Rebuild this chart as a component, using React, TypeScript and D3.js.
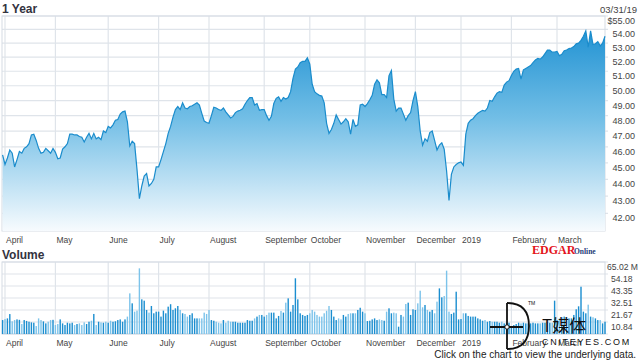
import React from "react";
import * as d3 from "d3";

const priceValues = [
  45.5, 44.9, 45.3, 45.8, 45.6, 44.75, 45.2, 45.7, 45.6, 45.9,
  46.0, 46.2, 46.75, 46.8, 46.4, 45.9, 45.6, 45.65, 45.9, 45.75,
  45.6, 45.9, 45.65, 45.25, 45.3, 45.85, 46.0, 46.2, 46.8, 46.8,
  46.75, 46.75, 46.65, 46.6, 46.3, 46.6, 46.85, 46.5, 46.85, 46.5,
  46.6, 46.45, 47.0, 46.9, 47.3, 47.2, 47.4, 47.7, 47.75, 48.1,
  48.25, 48.3, 47.6, 46.05, 46.35, 46.2, 44.6, 42.85, 43.6, 44.2,
  44.35, 43.6, 43.75, 44.0, 44.75, 44.75, 45.2, 45.7, 46.2, 46.85,
  47.3, 47.9, 48.4, 48.6, 48.4, 48.85, 48.5, 48.45, 48.6, 48.65,
  48.75, 48.85, 48.7, 48.15, 47.65, 47.55, 47.5, 48.0, 48.55, 48.5,
  48.4, 48.35, 48.5, 48.25, 48.05, 47.85, 47.95, 48.2, 48.3, 48.35,
  48.45, 48.75, 49.0, 49.2, 49.2, 48.7, 48.8, 48.35, 48.4, 48.4,
  48.0, 47.7, 47.95, 48.8, 49.15, 49.25, 48.95, 49.2, 49.1, 49.2,
  49.6, 50.5, 51.15, 51.3, 51.6, 51.7, 51.7, 51.95, 51.5, 50.1,
  49.6, 49.45, 49.35, 49.3, 48.85, 47.5, 46.85, 47.1, 47.5, 48.05,
  47.75, 47.45, 47.6, 47.8, 47.6, 46.8, 47.75, 47.3, 47.4, 48.7,
  48.75, 48.6, 48.8, 49.05, 49.35, 50.1, 50.4, 50.2, 49.4, 49.4,
  49.2, 50.7, 51.05, 49.1, 48.3, 48.5, 48.5, 48.1, 47.7, 48.0,
  48.2, 49.0, 49.6, 48.6, 47.0, 46.1, 46.5, 46.35, 46.9, 47.0,
  46.4, 45.8, 46.1, 46.25, 45.85, 44.5, 42.75, 44.3, 44.75, 44.9,
  45.0, 45.05, 44.85, 46.8, 47.5, 47.7, 47.8, 48.0, 48.15, 48.25,
  48.35, 48.3, 48.5, 49.0, 48.95, 49.25, 49.5, 49.6, 49.55, 50.05,
  50.25, 50.35, 50.7, 51.0, 51.15, 51.2, 50.45, 51.1, 51.2, 51.3,
  51.4, 51.6, 51.8, 51.9, 51.85, 52.0, 52.25, 52.5, 52.5, 52.35,
  52.35, 52.4, 52.1, 52.2, 52.45, 52.5, 52.6, 52.65, 52.75, 52.95,
  53.0, 53.2, 53.5, 53.9, 52.7, 53.9, 52.9, 52.95, 53.1, 52.8,
  53.0, 53.5,
];

const volumeValues = [
  12.6, 13.5, 14.1, 18.0, 11.5, 12.6, 13.2, 12.8, 9.0, 12.6,
  11.8, 11.1, 10.5, 10.2, 7.2, 14.1, 12.6, 11.4, 9.6, 11.1,
  12.6, 12.8, 8.1, 9.0, 13.2, 9.6, 8.1, 10.2, 9.6, 10.2,
  8.1, 9.0, 9.6, 8.1, 10.5, 9.0, 11.1, 12.0, 18.1, 8.1,
  11.1, 10.5, 10.2, 11.1, 10.2, 12.0, 11.1, 11.5, 12.6, 13.2,
  11.1, 13.2, 15.7, 36.7, 27.7, 20.2, 21.1, 59.3, 31.3, 30.1,
  21.7, 19.3, 25.3, 18.7, 20.2, 20.2, 15.7, 21.1, 18.7, 24.7,
  26.9, 21.7, 23.2, 25.3, 21.7, 18.7, 18.1, 15.7, 17.2, 18.7,
  14.1, 14.1, 14.1, 14.1, 19.3, 18.1, 21.7, 12.6, 12.0, 11.1,
  10.2, 9.6, 12.6, 10.2, 12.0, 11.1, 11.1, 11.1, 10.2, 10.2,
  10.2, 10.2, 12.6, 12.0, 12.0, 14.1, 15.7, 17.2, 17.2, 15.7,
  17.2, 19.3, 19.3, 19.3, 14.1, 16.3, 20.8, 19.3, 28.3, 32.2,
  20.2, 26.2, 50.3, 31.3, 18.7, 17.2, 16.3, 17.2, 18.7, 21.7,
  20.2, 17.2, 15.7, 15.7, 18.7, 21.0, 25.3, 21.7, 15.7, 12.6,
  14.1, 13.2, 17.2, 15.7, 18.1, 18.7, 18.7, 18.7, 21.7, 23.7,
  20.2, 18.7, 11.7, 12.0, 13.2, 14.1, 12.6, 13.2, 12.6, 12.0,
  20.2, 23.2, 18.7, 19.3, 18.7, 6.6, 17.2, 15.7, 27.1, 28.3,
  17.2, 22.3, 21.7, 27.7, 39.1, 24.1, 26.2, 21.7, 20.2, 21.7,
  18.7, 29.2, 41.2, 33.1, 34.3, 57.2, 20.2, 18.1, 19.3, 38.2,
  13.2, 13.5, 18.7, 18.7, 16.3, 15.7, 15.7, 15.7, 14.1, 13.2,
  12.0, 12.6, 11.1, 11.7, 11.1, 11.1, 11.1, 10.2, 11.1, 9.6,
  10.2, 10.2, 6.6, 8.1, 9.0, 10.2, 9.6, 10.2, 9.6, 9.6,
  9.6, 10.2, 9.6, 9.6, 9.6, 10.2, 10.2, 11.1, 10.2, 10.2,
  30.1, 12.6, 14.1, 15.1, 15.7, 15.1, 14.1, 14.1, 17.2, 22.3,
  25.0, 42.7, 20.2, 18.7, 26.5, 15.7, 15.1, 14.1, 12.6, 12.6,
  9.6, 11.1,
];

const monthLabels = ["April", "May", "June", "July", "August", "September", "October", "November", "December", "2019", "February", "March"];
const monthIndex = [1, 22, 44, 65, 86, 109, 128, 151, 172, 191, 212, 231];
const priceTicks = [42, 43, 44, 45, 46, 47, 48, 49, 50, 51, 52, 53, 54, 55];
const volumeTicks = [0, 10.84, 21.67, 32.51, 43.35, 54.18, 65.02];

const W = 640;
const H = 361;
const L = 2;
const R = 605;
const PT = 16;
const PB = 231;
const VT = 262;
const VB = 334;
const GRID = "#dfe4ea";
const FONT = "Liberation Sans, Arial, sans-serif";

export default function App() {
  const x = d3.scaleLinear().domain([0, priceValues.length - 1]).range([2.6, R]);
  const y = d3.scaleLog().domain([41, 55]).range([PB, PT]);
  const yv = d3.scaleLinear().domain([0, 65.02]).range([VB, VT]);

  const area = d3
    .area<number>()
    .x((_, i) => x(i))
    .y0(PB)
    .y1((d) => y(d));
  const line = d3
    .line<number>()
    .x((_, i) => x(i))
    .y((d) => y(d));

  return (
    <svg
      width={W}
      height={H}
      style={{ position: "absolute", left: 0, top: 0, background: "#fff" }}
      fontFamily={FONT}
    >
      <defs>
        <linearGradient id="pg" gradientUnits="userSpaceOnUse" x1="0" y1={PT + 10} x2="0" y2={PB}>
          <stop offset="0%" stopColor="#1e91d2" />
          <stop offset="45%" stopColor="#72bee6" />
          <stop offset="100%" stopColor="#f7fbfe" />
        </linearGradient>
      </defs>
      <rect x={0} y={0} width={W} height={H} fill="#fff" />

      {/* Price panel */}
      <text x={2} y={13} fontSize={12} fontWeight="bold" fill="#333340">1 Year</text>
      <text x={637} y={13} fontSize={9.5} fill="#444" textAnchor="end">03/31/19</text>

      {priceTicks.map((t) => (
        <line key={"pg" + t} x1={L} x2={R + 3} y1={y(t)} y2={y(t)} stroke={GRID} strokeWidth={1.2} />
      ))}
      {monthIndex.map((m, k) => (
        <line key={"pv" + k} x1={x(m)} x2={x(m)} y1={PT} y2={PB} stroke={GRID} strokeWidth={1.2} />
      ))}
      <rect x={L} y={PT} width={R - L} height={PB - PT} fill="none" stroke="#d5dbe3" strokeWidth={1} />

      <path d={area(priceValues) || ""} fill="url(#pg)" />
      <path d={line(priceValues) || ""} fill="none" stroke="#1a8ccc" strokeWidth={1.2} />

      {priceTicks.map((t) => (
        <text key={"pl" + t} x={635} y={y(t) + 8} fontSize={9} fill="#444" textAnchor="end">
          {t === 55 ? "$55.00" : t.toFixed(2)}
        </text>
      ))}
      {monthLabels.map((m, k) => (
        <text key={"pm" + k} x={x(monthIndex[k]) + 1} y={243} fontSize={8.5} fill="#444">{m}</text>
      ))}

      {/* EDGAR Online logo */}
      <text x={532} y={254} fontSize={12} fontWeight="bold" fill="#e3141c" fontFamily="Liberation Serif, Times New Roman, serif">EDGAR</text>
      <text x={574} y={254} fontSize={7.5} fontWeight="bold" fill="#1d3a78" fontFamily="Liberation Serif, Times New Roman, serif">Online</text>

      {/* Volume panel */}
      <text x={2} y={259} fontSize={12} fontWeight="bold" fill="#333340">Volume</text>
      {volumeTicks.map((t) => (
        <line key={"vg" + t} x1={L} x2={R + 3} y1={yv(t)} y2={yv(t)} stroke={GRID} strokeWidth={1.2} />
      ))}
      {monthIndex.map((m, k) => (
        <line key={"vv" + k} x1={x(m)} x2={x(m)} y1={VT} y2={VB} stroke={GRID} strokeWidth={1.2} />
      ))}
      <rect x={L} y={VT} width={R - L} height={VB - VT} fill="none" stroke="#d5dbe3" strokeWidth={1} />
      {volumeValues.map((v, i) => {
        const up = i === 0 ? true : priceValues[i] >= priceValues[i - 1];
        return (
          <rect
            key={"vb" + i}
            x={x(i) - 0.7}
            y={yv(v)}
            width={1.4}
            height={VB - yv(v)}
            fill={up ? "#1b8ed0" : "#7cc3ea"}
          />
        );
      })}
      {volumeTicks.filter((t) => t > 0).map((t) =>
        t === 65.02 ? (
          <text key={"vl" + t} x={638} y={yv(t) + 8} fontSize={8.6} fill="#444" textAnchor="end">65.02 M</text>
        ) : (
          <text key={"vl" + t} x={611} y={yv(t) + 8} fontSize={8.6} fill="#444">{t.toFixed(2)}</text>
        )
      )}
      {monthLabels.map((m, k) => (
        <text key={"vm" + k} x={x(monthIndex[k]) + 1} y={346} fontSize={8.5} fill="#444">{m}</text>
      ))}

      <text x={636} y={358} fontSize={10} fill="#222" textAnchor="end">Click on the chart to view the underlying data.</text>

      {/* Watermark */}
      <g stroke="#111" fill="none" strokeWidth={1.8}>
        <path d="M507,303 L507,349 M507,303 Q529,303 529,326 Q529,349 507,349" />
        <line x1={490} x2={523} y1={327} y2={327} />
      </g>
      <circle cx={507} cy={327} r={2.2} fill="#fff" stroke="#111" strokeWidth={1} />
      <text x={528} y={305} fontSize={5} fill="#111">TM</text>
      <text x={542} y={332} fontSize={17} fill="#111" fontFamily="Noto Sans CJK SC, sans-serif">T媒体</text>
      <text x={542} y={345} fontSize={9} fill="#111" letterSpacing={1.7}>CNITEYES.COM</text>
    </svg>
  );
}
